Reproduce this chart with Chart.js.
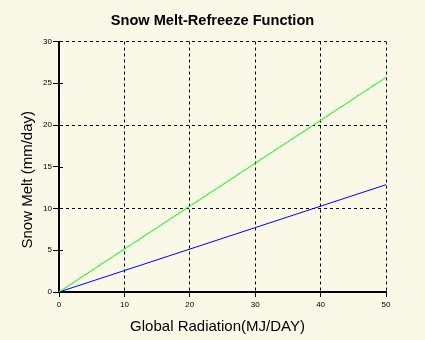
<!DOCTYPE html>
<html>
<head>
<meta charset="utf-8">
<script src="https://cdn.jsdelivr.net/npm/chart.js@4/dist/chart.umd.min.js"></script>
<style>
  html, body { margin: 0; padding: 0; background: #faf8e6; }
  #wrap { width: 425px; height: 340px; }
</style>
</head>
<body>
<div id="wrap"><canvas id="c" width="425" height="340"></canvas></div>
<script>
// Global radiation (MJ/day) at the ends of each melt line
const radiation = [0, 50];
// Snow melt (mm/day) for each curve
const meltGreen = [0, 25.7];
const meltBlue = [0, 12.85];
// Axis ranges and tick steps
const xRange = [0, 50];
const yRange = [0, 30];
const xStep = 10;
const yStep = 5;

const titleText = 'Snow Melt-Refreeze Function';
const xTitle = 'Global Radiation(MJ/DAY)';
const yTitle = 'Snow Melt (mm/day)';

const FONT = '"Liberation Sans", Arial, sans-serif';

// Short tick marks on the inner side of the y axis, plus the axis titles
const extras = {
  id: 'extras',
  afterDraw(chart) {
    const { ctx, chartArea, scales } = chart;
    ctx.save();
    ctx.strokeStyle = '#000';
    ctx.lineWidth = 1;
    for (let v = yRange[0] + yStep; v < yRange[1]; v += yStep) {
      if (v % 10 === 0) continue;
      const y = Math.round(scales.y.getPixelForValue(v)) + 0.5;
      ctx.beginPath();
      ctx.moveTo(chartArea.left, y);
      ctx.lineTo(chartArea.left + 4, y);
      ctx.stroke();
    }
    ctx.fillStyle = '#000';
    ctx.font = '15px ' + FONT;
    ctx.textAlign = 'center';
    ctx.textBaseline = 'middle';
    ctx.fillText(xTitle, (chartArea.left + chartArea.right) / 2 - 5, 327);
    ctx.translate(28, (chartArea.top + chartArea.bottom) / 2 + 13);
    ctx.rotate(-Math.PI / 2);
    ctx.fillText(yTitle, 0, 0);
    ctx.restore();
  }
};

new Chart(document.getElementById('c'), {
  type: 'line',
  data: {
    labels: radiation,
    datasets: [
      {
        data: radiation.map((x, i) => ({ x, y: meltGreen[i] })),
        borderColor: '#00ff00',
        borderWidth: 1,
        pointRadius: 0,
        tension: 0
      },
      {
        data: radiation.map((x, i) => ({ x, y: meltBlue[i] })),
        borderColor: '#0000ff',
        borderWidth: 1,
        pointRadius: 0,
        tension: 0
      }
    ]
  },
  options: {
    responsive: false,
    animation: false,
    events: [],
    layout: { padding: { left: 39, right: 39, top: 0, bottom: 0 } },
    plugins: {
      legend: { display: false },
      tooltip: { enabled: false },
      title: {
        display: true,
        text: titleText,
        color: '#000',
        font: { family: FONT, size: 14.6, weight: 'bold' },
        padding: { top: 12, bottom: 12 }
      }
    },
    scales: {
      x: {
        type: 'linear',
        min: xRange[0],
        max: xRange[1],
        afterFit(scale) { scale.height = 48; },
        ticks: {
          stepSize: xStep,
          color: '#000',
          padding: 3,
          font: { family: FONT, size: 8 }
        },
        grid: {
          color: ctx => (ctx.tick && ctx.tick.value !== xRange[0]) ? '#000' : 'rgba(0,0,0,0)',
          tickColor: '#000',
          tickLength: 5,
          lineWidth: 1
        },
        border: { display: true, color: '#000', width: 2, dash: [3, 3] }
      },
      y: {
        type: 'linear',
        min: yRange[0],
        max: yRange[1],
        afterFit(scale) { scale.width = 20; },
        ticks: {
          stepSize: yStep,
          color: '#000',
          padding: 1,
          font: { family: FONT, size: 8 }
        },
        grid: {
          color: ctx => (ctx.tick && ctx.tick.value % 10 === 0 && ctx.tick.value !== yRange[0]) ? '#000' : 'rgba(0,0,0,0)',
          tickColor: '#000',
          tickLength: 6,
          lineWidth: 1
        },
        border: { display: true, color: '#000', width: 2, dash: [3, 3] }
      }
    }
  },
  plugins: [extras]
});
</script>
</body>
</html>
